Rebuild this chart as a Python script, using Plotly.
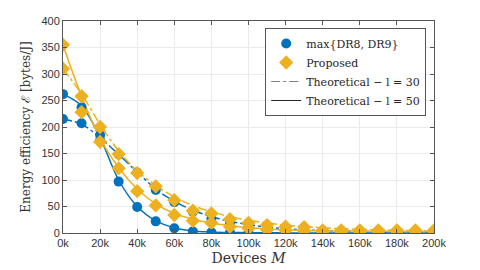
import plotly.graph_objects as go

devices = [i * 10000 for i in range(21)]

# Simulated (markers)
dr_l30 = [215, 207, 175, 148, 114, 81, 58, 40, 27, 18, 12, 8, 5, 3.5, 2.5, 2, 1.5, 1, 1, 0.5, 0.5]
dr_l50 = [262, 237, 185, 97, 49, 22, 9, 3, 1.5, 0.8, 0.5, 0.3, 0.2, 0.1, 0.1, 0.1, 0, 0, 0, 0, 0]
prop_l30 = [310, 228, 200, 149, 113, 88, 62, 42, 37, 26, 19, 15, 12, 11, 5, 5, 5, 5, 5, 5, 5]
prop_l50 = [355, 258, 172, 122, 79, 52, 34, 23, 19, 12, 9, 6, 5, 4, 3, 3, 3, 3, 3, 3, 3]

# Theoretical (lines)
th_dr_l30 = [215, 205, 180, 148, 115, 83, 60, 43, 31, 22, 16, 11, 8, 6, 4.5, 3.5, 3, 2.5, 2, 2, 1.5]
th_dr_l50 = [262, 240, 180, 100, 50, 23, 10, 4, 2, 1, 0.5, 0.3, 0.2, 0.1, 0.1, 0, 0, 0, 0, 0, 0]
th_prop_l30 = [310, 262, 205, 155, 117, 90, 68, 52, 40, 31, 24, 19, 15, 12, 10, 8, 7, 6, 5, 4.5, 4]
th_prop_l50 = [355, 258, 178, 123, 83, 55, 37, 26, 19, 14, 10, 8, 6, 5, 4, 4, 3.5, 3.5, 3, 3, 3]

x_tickvals = [i * 20000 for i in range(11)]
x_ticktext = [f"{i * 20}k" for i in range(11)]
y_tickvals = list(range(0, 401, 50))

BLUE = "#0072BD"
YELLOW = "#EDB120"
SERIF = "DejaVu Serif, Liberation Serif, serif"

fig = go.Figure()

# theoretical lines (no legend)
for ys, col, dash in [(th_dr_l30, BLUE, "dashdot"), (th_dr_l50, BLUE, "solid"),
                      (th_prop_l30, YELLOW, "dashdot"), (th_prop_l50, YELLOW, "solid")]:
    fig.add_trace(go.Scatter(x=devices, y=ys, mode="lines", line=dict(color=col, width=1.5, dash=dash, shape="spline"),
                             showlegend=False, hoverinfo="skip"))

# markers
for ys, show in [(dr_l30, True), (dr_l50, False)]:
    fig.add_trace(go.Scatter(x=devices, y=ys, mode="markers", name="max{DR8, DR9}",
                             marker=dict(symbol="circle", size=10, color=BLUE),
                             showlegend=show))
for ys, show in [(prop_l30, True), (prop_l50, False)]:
    fig.add_trace(go.Scatter(x=devices, y=ys, mode="markers", name="Proposed",
                             marker=dict(symbol="diamond", size=11, color=YELLOW),
                             showlegend=show))

# legend-only theoretical entries
fig.add_trace(go.Scatter(x=[None], y=[None], mode="lines", name="Theoretical − l = 30",
                         line=dict(color="#7f7f7f", width=1.2, dash="dashdot")))
fig.add_trace(go.Scatter(x=[None], y=[None], mode="lines", name="Theoretical − l = 50",
                         line=dict(color="#262626", width=1.0, dash="solid")))

axis_common = dict(showgrid=True, gridcolor="#ebebeb", gridwidth=1, zeroline=False,
                   showline=True, linecolor="#555555", linewidth=1, mirror="ticks",
                   ticks="inside", ticklen=4, tickcolor="#555555", automargin=False,
                   tickfont=dict(family="Liberation Sans, Arial, sans-serif", size=11, color="#333333"))

fig.update_layout(
    width=480, height=270,
    margin=dict(l=55, r=54, t=13, b=45),
    paper_bgcolor="white", plot_bgcolor="white",
    xaxis=dict(range=[0, 200000], tickvals=x_tickvals, ticktext=x_ticktext,
               title=dict(text="Devices <i>M</i>", font=dict(family=SERIF, size=14, color="#333333"), standoff=4),
               **axis_common),
    yaxis=dict(range=[0, 400], tickvals=y_tickvals,
               title=dict(text="Energy efficiency ℰ [bytes/J]", font=dict(family=SERIF, size=12, color="#333333"), standoff=8),
               **axis_common),
    legend=dict(x=0.545, y=0.967, xanchor="left", yanchor="top",
                bgcolor="white", bordercolor="#555555", borderwidth=1,
                font=dict(family=SERIF, size=11, color="#262626"),
                itemwidth=30, tracegroupgap=0),
    showlegend=True,
)

fig.write_html("out.html")
